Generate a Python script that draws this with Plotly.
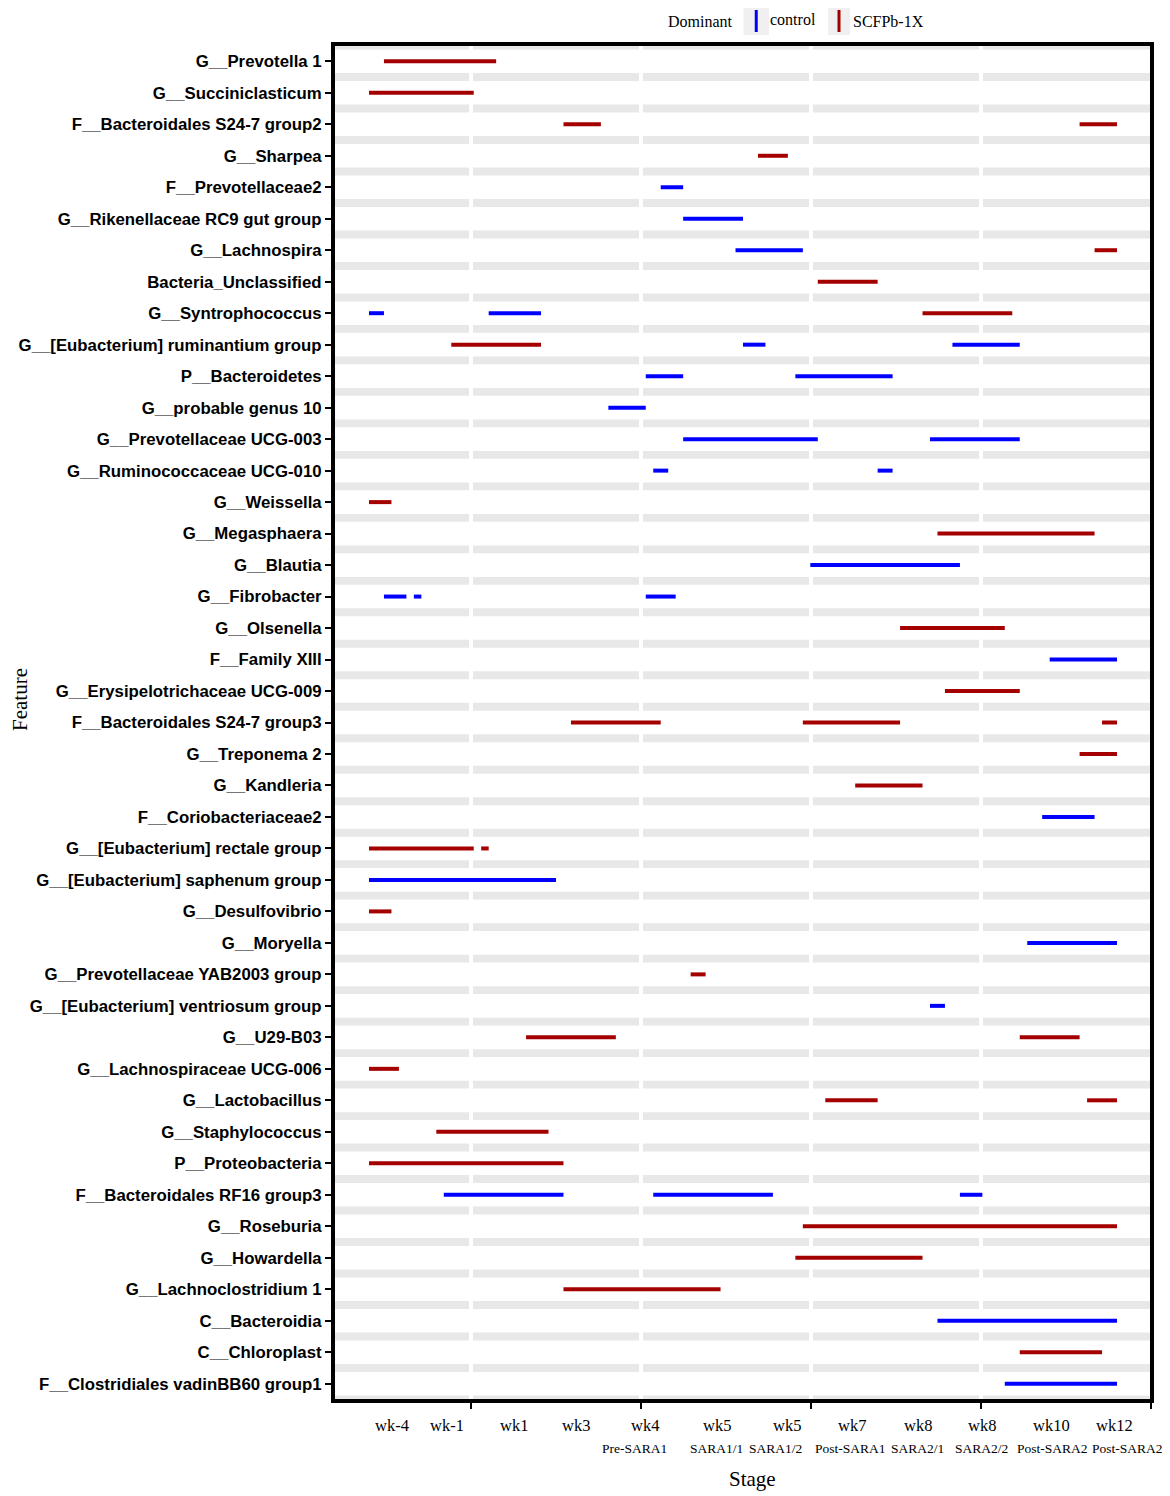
import plotly.graph_objects as go

# --- Data ---
FEATURES = [
    "G__Prevotella 1", "G__Succiniclasticum", "F__Bacteroidales S24-7 group2",
    "G__Sharpea", "F__Prevotellaceae2", "G__Rikenellaceae RC9 gut group",
    "G__Lachnospira", "Bacteria_Unclassified", "G__Syntrophococcus",
    "G__[Eubacterium] ruminantium group", "P__Bacteroidetes", "G__probable genus 10",
    "G__Prevotellaceae UCG-003", "G__Ruminococcaceae UCG-010", "G__Weissella",
    "G__Megasphaera", "G__Blautia", "G__Fibrobacter", "G__Olsenella",
    "F__Family XIII", "G__Erysipelotrichaceae UCG-009", "F__Bacteroidales S24-7 group3",
    "G__Treponema 2", "G__Kandleria", "F__Coriobacteriaceae2",
    "G__[Eubacterium] rectale group", "G__[Eubacterium] saphenum group",
    "G__Desulfovibrio", "G__Moryella", "G__Prevotellaceae YAB2003 group",
    "G__[Eubacterium] ventriosum group", "G__U29-B03", "G__Lachnospiraceae UCG-006",
    "G__Lactobacillus", "G__Staphylococcus", "P__Proteobacteria",
    "F__Bacteroidales RF16 group3", "G__Roseburia", "G__Howardella",
    "G__Lachnoclostridium 1", "C__Bacteroidia", "C__Chloroplast",
    "F__Clostridiales vadinBB60 group1",
]

# sample-index spans (start, end) where each group is dominant, one list per feature
CONTROL = [
    [], [], [], [], [(39, 42)], [(42, 50)], [(49, 58)], [], [(0, 2), (16, 23)],
    [(50, 53), (78, 87)], [(37, 42), (57, 70)], [(32, 37)], [(42, 60), (75, 87)],
    [(38, 40), (68, 70)], [], [], [(59, 79)], [(2, 5), (6, 7), (37, 41)], [],
    [(91, 100)], [], [], [], [], [(90, 97)], [], [(0, 25)], [], [(88, 100)], [],
    [(75, 77)], [], [], [], [], [], [(10, 26), (38, 54), (79, 82)], [], [], [],
    [(76, 100)], [], [(85, 100)],
]
SCFP = [
    [(2, 17)], [(0, 14)], [(26, 31), (95, 100)], [(52, 56)], [], [], [(97, 100)],
    [(60, 68)], [(74, 86)], [(11, 23)], [], [], [], [], [(0, 3)], [(76, 97)], [],
    [], [(71, 85)], [], [(77, 87)], [(27, 39), (58, 71), (98, 100)], [(95, 100)],
    [(65, 74)], [], [(0, 14), (15, 16)], [], [(0, 3)], [], [(43, 45)], [],
    [(21, 33), (87, 95)], [(0, 4)], [(61, 68), (96, 100)], [(9, 24)], [(0, 26)],
    [], [(58, 100)], [(57, 74)], [(26, 47)], [], [(87, 98)], [],
]

STAGE_WEEK = ["wk-4", "wk-1", "wk1", "wk3", "wk4", "wk5", "wk5", "wk7", "wk8",
              "wk8", "wk10", "wk12"]
STAGE_PHASE = ["", "", "", "", "Pre-SARA1", "SARA1/1", "SARA1/2", "Post-SARA1",
               "SARA2/1", "SARA2/2", "Post-SARA2", "Post-SARA2"]

# --- Layout constants (pixel geometry of the reference) ---
W, H = 1170, 1496
OFF = 8  # page body margin
L, R, T, B = 333, 1152, 44, 1401
WEEK_PX = [391.5, 447, 514, 576, 644.5, 716.5, 786.5, 852, 918, 981.5, 1051.5, 1114]
PHASE_PX = [0, 0, 0, 0, 634, 716, 775.5, 850, 917.5, 981, 1052, 1127]
GRID_X = [13.64, 36.36, 59.09, 81.82, 104.55]
BLUE = "#0000FF"
RED = "#A50000"
SERIF = "Liberation Serif, Times New Roman, serif"


def px(x):
    return (x - L) / (R - L)


def py(y):
    return (B - y) / (B - T)


def label(text, x, y, size, **kw):
    return dict(text=text, x=px(x), y=py(y), xref="paper", yref="paper",
                xanchor="center", yanchor="middle", showarrow=False,
                font=dict(family=SERIF, size=size, color="black"), **kw)


def segment_trace(spans, color, name):
    xs, ys = [], []
    for row, items in enumerate(spans):
        for a, b in items:
            xs += [a, b, None]
            ys += [row, row, None]
    return go.Scatter(x=xs, y=ys, mode="lines", name=name,
                      line=dict(color=color, width=4), showlegend=False,
                      hoverinfo="skip")


fig = go.Figure()
fig.add_trace(segment_trace(CONTROL, BLUE, "control"))
fig.add_trace(segment_trace(SCFP, RED, "SCFPb-1X"))

# grey bands between rows
shapes = []
n = len(FEATURES)
for k in range(-1, n):
    shapes.append(dict(type="rect", xref="paper", yref="y", x0=0, x1=1,
                       y0=k + 0.375, y1=k + 0.625, layer="below",
                       fillcolor="#E8E8E8", line=dict(width=0)))
# panel frame
shapes.append(dict(type="rect", xref="paper", yref="paper", x0=0, x1=1, y0=0, y1=1,
                   line=dict(color="black", width=4), layer="above"))

# legend keys
for x0, x1, color in [(743.5, 769, BLUE), (828, 850, RED)]:
    shapes.append(dict(type="rect", xref="paper", yref="paper",
                       x0=px(x0), x1=px(x1), y0=py(35), y1=py(7),
                       fillcolor="#F0F0F0", line=dict(width=0)))
    xm = (x0 + x1) / 2
    shapes.append(dict(type="line", xref="paper", yref="paper",
                       x0=px(xm), x1=px(xm), y0=py(32), y1=py(10),
                       line=dict(color=color, width=3)))

annotations = [label("Dominant", 700, 21, 16), label("control", 793, 20, 16),
               label("SCFPb-1X", 888, 21, 16)]
for wk, ph, xw, xp in zip(STAGE_WEEK, STAGE_PHASE, WEEK_PX, PHASE_PX):
    annotations.append(label(wk, xw, 1425, 16.5))
    if ph:
        annotations.append(label(ph, xp, 1448, 13.5))
annotations.append(label("Stage", 752, 1479, 21))
annotations.append(label("Feature", 20, 700, 21, textangle=-90))

x_per_px = 100 / (1117 - 369)
fig.update_layout(
    width=W - OFF, height=H - OFF,
    margin=dict(l=L - OFF, r=W - R, t=T - OFF, b=H - B),
    plot_bgcolor="white", paper_bgcolor="white",
    shapes=shapes, annotations=annotations,
    xaxis=dict(range=[(L - 369) * x_per_px, (R - 369) * x_per_px],
               tickmode="array", tickvals=GRID_X, showticklabels=False,
               showgrid=True, gridcolor="white", gridwidth=4, zeroline=False,
               ticks="outside", ticklen=7, tickwidth=2, tickcolor="black"),
    yaxis=dict(range=[n - 0.45, -0.55], tickmode="array",
               tickvals=list(range(n)), ticktext=FEATURES,
               showgrid=False, zeroline=False,
               ticks="outside", ticklen=7, tickwidth=2, tickcolor="black",
               tickfont=dict(family="Liberation Sans, Arial", size=16.8,
                             color="black", weight="bold")),
)

fig.write_html("out.html")
